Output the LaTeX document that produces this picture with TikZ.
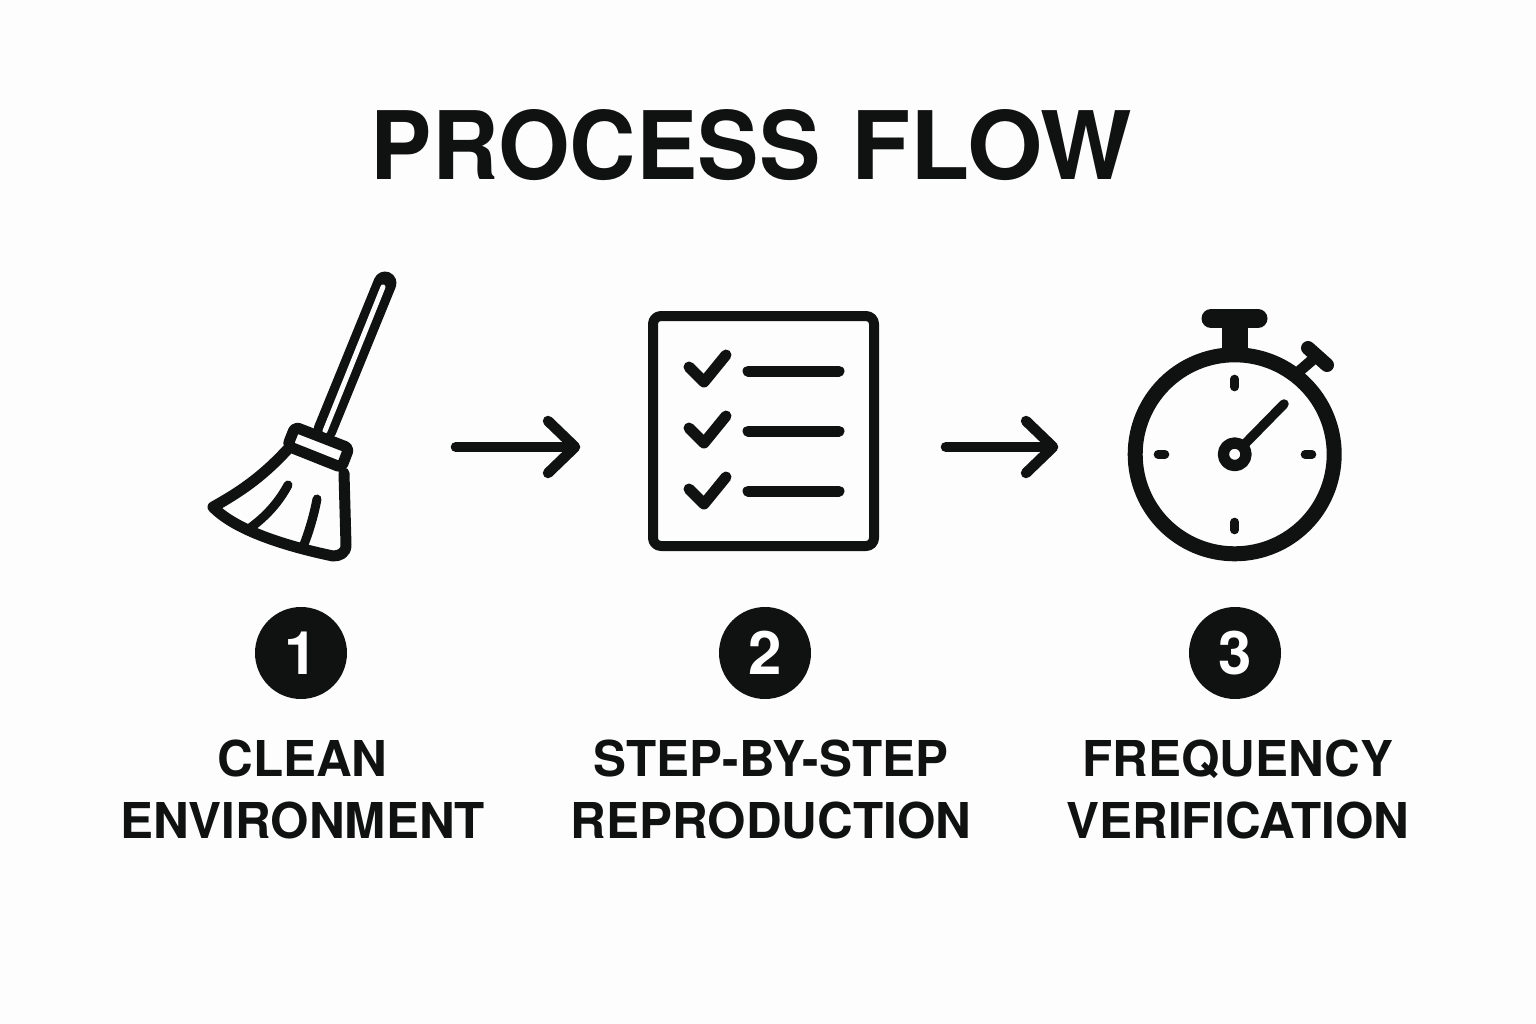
\documentclass[tikz,border=0pt]{standalone}
\usepackage{graphicx}
\usepackage{fontspec}
\setmainfont{TeX Gyre Heros}
\usetikzlibrary{arrows.meta}
\definecolor{ink}{HTML}{101111}
\definecolor{paper}{HTML}{FDFDFD}
\tikzset{
  x=1pt,y=-1pt,
  icon/.style={draw=ink,line width=#1,line cap=round,line join=round},
  spot/.style={draw=none,minimum size=1pt,inner sep=0pt},
  flow/.style={draw=ink,line width=10pt,line cap=round,-{Straight Barb[length=27pt,width=52pt,line width=10.5pt,round]}},
  badge/.style={circle,fill=ink,minimum size=92pt,inner sep=0pt,text=white,font=\fontsize{60}{60}\selectfont\bfseries},
  label/.style={align=center,text=ink,font=\fontsize{49.4}{62}\selectfont\bfseries},
  headline/.style={text=ink,font=\fontsize{94.5}{100}\selectfont\bfseries}
}
\begin{document}
\begin{tikzpicture}
\useasboundingbox (0,0) rectangle (1536,1024);
\fill[paper] (0,0) rectangle (1536,1024);
\node[headline,anchor=base] (title) at (751.5,180) {\scalebox{0.974}[1]{PROCESS}\hspace{5pt} \scalebox{1.026}[1]{FLOW}};
% broom
\node[spot,minimum width=191pt,minimum height=10pt] (broom) at (302,447) {};
\draw[icon=23pt] (385,283) -- (325,430);
\draw[draw=paper,line width=5pt,line cap=round] (383,287) -- (325,431);
\draw[icon=11pt,fill=paper,rounded corners=4pt] (295,427) -- (349,448) -- (341.5,467.5) -- (287.5,446) -- cycle;
\draw[icon=11pt] (287,450) .. controls (262,477) and (240,492) .. (213,507)
  .. controls (235,530) and (285,546) .. (333,556)
  .. controls (340,556) and (346,553) .. (346,545)
  -- (344,473);
\draw[icon=9pt] (288,485) .. controls (280,500) and (268,515) .. (250,528);
\draw[icon=9pt] (317,499) .. controls (314,515) and (309,532) .. (303,547);
% checklist
\node[spot,minimum width=231pt,minimum height=10pt] (list) at (763,447) {};
\draw[icon=10pt,rounded corners=8pt] (653,316) rectangle (874,546);
\foreach \yy in {0,61,122}{
  \draw[icon=11pt] (689,367+\yy) -- (704,382+\yy) -- (726,355+\yy);
}
\foreach \yy in {371,431,491}{
  \draw[icon=11pt] (748,\yy) -- (839,\yy);
}
% stopwatch
\node[spot,minimum width=215pt,minimum height=10pt] (watch) at (1235,447) {};
\draw[icon=15pt] (1234.7,454.3) circle (99.5);
\draw[icon=19pt] (1211,318.5) -- (1258,318.5);
\fill[ink] (1222,318) rectangle (1248,352);
\draw[icon=11pt,line cap=butt] (1296,374) -- (1318,355);
\draw[icon=14pt] (1308,348) -- (1327,365);
\draw[icon=8.6pt] (1234.7,379) -- (1234.7,387);
\draw[icon=8.6pt] (1234.7,522) -- (1234.7,530);
\draw[icon=8.6pt] (1158,454.3) -- (1165,454.3);
\draw[icon=8.6pt] (1305,454.3) -- (1312,454.3);
\draw[icon=9.5pt] (1234.7,454.3) -- (1284,404);
\draw[icon=11.3pt,fill=paper] (1234.7,454.3) circle (11.3);
% arrows
\draw[flow,shorten <=58pt,shorten >=67pt] (broom.east) -- (list.west);
\draw[flow,shorten <=67pt,shorten >=69pt] (list.east) -- (watch.west);
% badges
\node[badge] (b1) at (301,653) {1};
\node[badge] (b2) at (765,653) {2};
\node[badge] (b3) at (1235,653) {3};
% labels
\node[label] (l1) at (302.5,789) {CLEAN\\ENVIRONMENT};
\node[label] (l2) at (771,789) {STEP-BY-STEP\\REPRODUCTION};
\node[label] (l3) at (1238,789) {FREQUENCY\\VERIFICATION};
\end{tikzpicture}
\end{document}
